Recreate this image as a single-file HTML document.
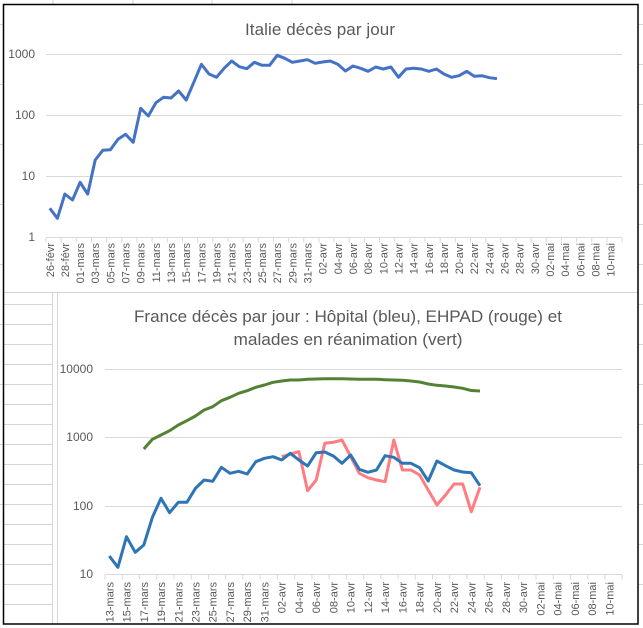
<!DOCTYPE html>
<html><head><meta charset="utf-8"><style>
html,body{margin:0;padding:0;background:#fff}
svg{display:block}
text{font-family:"Liberation Sans",sans-serif;fill:#595959}
</style></head><body>
<svg width="643" height="628" viewBox="0 0 643 628" xmlns="http://www.w3.org/2000/svg">
<rect width="643" height="628" fill="#fff"/>
<g stroke="#d4d4d4" stroke-width="1">
<line x1="53" y1="0" x2="53" y2="4"/><line x1="133" y1="0" x2="133" y2="4"/><line x1="212" y1="0" x2="212" y2="4"/><line x1="292" y1="0" x2="292" y2="4"/>
<line x1="3" y1="292.5" x2="638" y2="292.5"/>
<line x1="52.5" y1="293" x2="52.5" y2="624"/><line x1="57.5" y1="293" x2="57.5" y2="624"/>
<path d="M3 304.5H52M3 324.5H52M3 344.5H52M3 364.5H52M3 384.5H52M3 404.5H52M3 424.5H52M3 444.5H52M3 464.5H52M3 484.5H52M3 504.5H52M3 524.5H52M3 544.5H52M3 564.5H52M3 584.5H52M3 604.5H52"/>
<path d="M0 24.5H3M0 84.5H3M0 144.5H3M0 204.5H3M0 264.5H3M0 324.5H3M0 384.5H3M0 444.5H3M0 504.5H3M0 564.5H3"/>
<path d="M638 24.5H643M638 64.5H643M638 104.5H643M638 144.5H643M638 184.5H643M638 224.5H643M638 264.5H643M638 304.5H643M638 344.5H643M638 384.5H643M638 424.5H643M638 464.5H643M638 504.5H643M638 544.5H643M638 584.5H643"/>
</g>
<rect x="3.5" y="4.5" width="634.5" height="619.5" fill="none" stroke="#000" stroke-width="1.5"/>

<!-- TOP CHART -->
<text x="320" y="35" font-size="17" text-anchor="middle" textLength="150">Italie décès par jour</text>
<g stroke="#d9d9d9" stroke-width="1">
<line x1="46" y1="54.5" x2="622" y2="54.5"/><line x1="46" y1="115.5" x2="622" y2="115.5"/><line x1="46" y1="176.5" x2="622" y2="176.5"/><line x1="46" y1="237.5" x2="622" y2="237.5"/>
</g>
<line x1="45.5" y1="240" x2="623" y2="240" stroke="#d9d9d9" stroke-width="5" stroke-dasharray="1 14.16"/>
<g font-size="12" text-anchor="end">
<text x="35" y="58">1000</text><text x="35" y="119">100</text><text x="35" y="180">10</text><text x="35" y="241">1</text>
</g>
<polyline fill="none" stroke="#4472C4" stroke-width="3" stroke-linejoin="round" points="49.8,208.3 57.4,218.3 64.9,194 72.5,200 80.1,182.3 87.7,194 95.2,160 102.8,150.3 110.4,149.7 118.0,139.3 125.6,134.3 133.2,142.3 140.7,108.3 148.3,116 155.9,102.7 163.5,97.3 171.0,98 178.6,91 186.2,100 193.8,82.3 201.4,64.3 209.0,74 216.5,77.3 224.1,68.3 231.7,61 239.3,66.7 246.8,68.7 254.4,62.3 262.0,65.3 269.6,65.3 277.2,55.3 284.8,58.3 292.3,62.3 299.9,61 307.5,59.7 315.1,63.3 322.6,62 330.2,61 337.8,64.3 345.4,71 353.0,66 360.6,68.3 368.1,71.3 375.7,67 383.3,69 390.9,67 398.4,77.3 406.0,69 413.6,68.3 421.2,69 428.8,71.3 436.4,69 443.9,74 451.5,77.3 459.1,75.7 466.7,71.3 474.2,76.3 481.8,75.7 489.4,77.7 497.0,78.7"/>
<g font-size="11" text-anchor="end">
<text transform="translate(53.8,243) rotate(-90)">26-févr</text>
<text transform="translate(68.9,243) rotate(-90)">28-févr</text>
<text transform="translate(84.1,243) rotate(-90)">01-mars</text>
<text transform="translate(99.2,243) rotate(-90)">03-mars</text>
<text transform="translate(114.4,243) rotate(-90)">05-mars</text>
<text transform="translate(129.6,243) rotate(-90)">07-mars</text>
<text transform="translate(144.7,243) rotate(-90)">09-mars</text>
<text transform="translate(159.9,243) rotate(-90)">11-mars</text>
<text transform="translate(175.0,243) rotate(-90)">13-mars</text>
<text transform="translate(190.2,243) rotate(-90)">15-mars</text>
<text transform="translate(205.4,243) rotate(-90)">17-mars</text>
<text transform="translate(220.5,243) rotate(-90)">19-mars</text>
<text transform="translate(235.7,243) rotate(-90)">21-mars</text>
<text transform="translate(250.8,243) rotate(-90)">23-mars</text>
<text transform="translate(266.0,243) rotate(-90)">25-mars</text>
<text transform="translate(281.2,243) rotate(-90)">27-mars</text>
<text transform="translate(296.3,243) rotate(-90)">29-mars</text>
<text transform="translate(311.5,243) rotate(-90)">31-mars</text>
<text transform="translate(326.6,243) rotate(-90)">02-avr</text>
<text transform="translate(341.8,243) rotate(-90)">04-avr</text>
<text transform="translate(357.0,243) rotate(-90)">06-avr</text>
<text transform="translate(372.1,243) rotate(-90)">08-avr</text>
<text transform="translate(387.3,243) rotate(-90)">10-avr</text>
<text transform="translate(402.4,243) rotate(-90)">12-avr</text>
<text transform="translate(417.6,243) rotate(-90)">14-avr</text>
<text transform="translate(432.8,243) rotate(-90)">16-avr</text>
<text transform="translate(447.9,243) rotate(-90)">18-avr</text>
<text transform="translate(463.1,243) rotate(-90)">20-avr</text>
<text transform="translate(478.2,243) rotate(-90)">22-avr</text>
<text transform="translate(493.4,243) rotate(-90)">24-avr</text>
<text transform="translate(508.6,243) rotate(-90)">26-avr</text>
<text transform="translate(523.7,243) rotate(-90)">28-avr</text>
<text transform="translate(538.9,243) rotate(-90)">30-avr</text>
<text transform="translate(554.0,243) rotate(-90)">02-mai</text>
<text transform="translate(569.2,243) rotate(-90)">04-mai</text>
<text transform="translate(584.4,243) rotate(-90)">06-mai</text>
<text transform="translate(599.5,243) rotate(-90)">08-mai</text>
<text transform="translate(614.7,243) rotate(-90)">10-mai</text>
</g>

<!-- BOTTOM CHART -->
<text x="348" y="322" font-size="17" text-anchor="middle" textLength="428" lengthAdjust="spacingAndGlyphs">France décès par jour : Hôpital  (bleu),  EHPAD (rouge) et</text>
<text x="348" y="345" font-size="17" text-anchor="middle" textLength="229" lengthAdjust="spacingAndGlyphs">malades en réanimation (vert)</text>
<g stroke="#d9d9d9" stroke-width="1">
<line x1="105" y1="369.5" x2="622" y2="369.5"/><line x1="105" y1="437.5" x2="622" y2="437.5"/><line x1="105" y1="506.5" x2="622" y2="506.5"/><line x1="105" y1="574.5" x2="622" y2="574.5"/>
</g>
<line x1="104.5" y1="577" x2="623" y2="577" stroke="#d9d9d9" stroke-width="5" stroke-dasharray="1 16.24"/>
<g font-size="12" text-anchor="end">
<text x="93" y="373">10000</text><text x="93" y="441">1000</text><text x="93" y="510">100</text><text x="93" y="578">10</text>
</g>
<polyline fill="none" stroke="#548235" stroke-width="3" stroke-linejoin="round" points="143.8,449 152.4,439.3 161.0,435 169.6,430.7 178.3,425 186.9,420.7 195.5,416 204.1,410 212.7,406.7 221.4,400.7 230.0,397.3 238.6,393.3 247.2,390.7 255.8,387.3 264.5,385 273.1,382.3 281.7,381 290.3,380 298.9,380 307.6,379.3 316.2,379 324.8,378.7 333.4,378.7 342.0,378.7 350.7,379 359.3,379.3 367.9,379.3 376.5,379.3 385.1,379.7 393.8,380 402.4,380.3 411.0,381 419.6,382 428.2,384 436.9,385.3 445.5,386 454.1,387 462.7,388.3 471.3,390.5 480.0,391"/>
<polyline fill="none" stroke="#FF7C80" stroke-width="3" stroke-linejoin="round" points="281.7,456.7 290.3,454 298.9,451.7 307.6,490.7 316.2,480 324.8,443.3 333.4,442.3 342.0,440 350.7,456.7 359.3,473.3 367.9,477.7 376.5,480 385.1,481.7 393.8,440 402.4,470 411.0,470 419.6,475 428.2,490 436.9,505 445.5,495 454.1,484 462.7,484 471.3,511.7 480.0,487.3"/>
<polyline fill="none" stroke="#2E75B6" stroke-width="3" stroke-linejoin="round" points="109.3,556 117.9,567.3 126.5,536.7 135.2,552.3 143.8,545 152.4,517.3 161.0,498.3 169.6,512.7 178.3,502.3 186.9,502.3 195.5,488.3 204.1,480 212.7,481.3 221.4,467.3 230.0,473.3 238.6,471.3 247.2,474 255.8,461.7 264.5,458.3 273.1,456.7 281.7,460 290.3,453.3 298.9,460 307.6,466 316.2,452.7 324.8,452 333.4,456 342.0,463.3 350.7,455 359.3,469.3 367.9,472.3 376.5,470 385.1,455.7 393.8,457.3 402.4,463.3 411.0,463.3 419.6,467.7 428.2,481 436.9,461 445.5,465.7 454.1,470 462.7,472 471.3,472.7 480.0,485.7"/>
<g font-size="11" text-anchor="end">
<text transform="translate(113.3,582) rotate(-90)">13-mars</text>
<text transform="translate(130.5,582) rotate(-90)">15-mars</text>
<text transform="translate(147.8,582) rotate(-90)">17-mars</text>
<text transform="translate(165.0,582) rotate(-90)">19-mars</text>
<text transform="translate(182.3,582) rotate(-90)">21-mars</text>
<text transform="translate(199.5,582) rotate(-90)">23-mars</text>
<text transform="translate(216.7,582) rotate(-90)">25-mars</text>
<text transform="translate(234.0,582) rotate(-90)">27-mars</text>
<text transform="translate(251.2,582) rotate(-90)">29-mars</text>
<text transform="translate(268.5,582) rotate(-90)">31-mars</text>
<text transform="translate(285.7,582) rotate(-90)">02-avr</text>
<text transform="translate(302.9,582) rotate(-90)">04-avr</text>
<text transform="translate(320.2,582) rotate(-90)">06-avr</text>
<text transform="translate(337.4,582) rotate(-90)">08-avr</text>
<text transform="translate(354.7,582) rotate(-90)">10-avr</text>
<text transform="translate(371.9,582) rotate(-90)">12-avr</text>
<text transform="translate(389.1,582) rotate(-90)">14-avr</text>
<text transform="translate(406.4,582) rotate(-90)">16-avr</text>
<text transform="translate(423.6,582) rotate(-90)">18-avr</text>
<text transform="translate(440.9,582) rotate(-90)">20-avr</text>
<text transform="translate(458.1,582) rotate(-90)">22-avr</text>
<text transform="translate(475.3,582) rotate(-90)">24-avr</text>
<text transform="translate(492.6,582) rotate(-90)">26-avr</text>
<text transform="translate(509.8,582) rotate(-90)">28-avr</text>
<text transform="translate(527.1,582) rotate(-90)">30-avr</text>
<text transform="translate(544.3,582) rotate(-90)">02-mai</text>
<text transform="translate(561.6,582) rotate(-90)">04-mai</text>
<text transform="translate(578.8,582) rotate(-90)">06-mai</text>
<text transform="translate(596.0,582) rotate(-90)">08-mai</text>
<text transform="translate(613.3,582) rotate(-90)">10-mai</text>
</g>
</svg>
</body></html>
